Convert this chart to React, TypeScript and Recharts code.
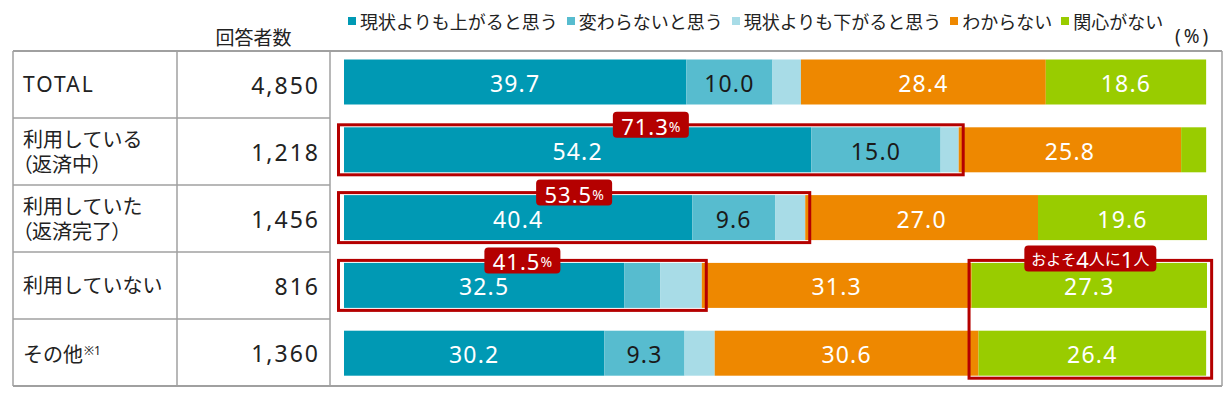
import React from 'react';
import { BarChart, Bar, XAxis, YAxis } from 'recharts';

// rows of the table / categories of the chart
const categories = ['TOTAL', '利用している（返済中）', '利用していた（返済完了）', '利用していない', 'その他'];
const rowLabels = [['TOTAL'], ['利用している', '（返済中）'], ['利用していた', '（返済完了）'], ['利用していない'], ['その他']];
const rowNotes = ['', '', '', '', '※1'];
const respondents = [4850, 1218, 1456, 816, 1360];

// shares in %
const rise = [39.7, 54.2, 40.4, 32.5, 30.2];
const same = [10.0, 15.0, 9.6, 4.2, 9.3];
const fall = [3.3, 2.1, 3.5, 4.8, 3.5];
const unknown = [28.4, 25.8, 27.0, 31.3, 30.6];
const noInterest = [18.6, 2.9, 19.6, 27.3, 26.4];

// red call-outs
const boxTotals = [null, 71.3, 53.5, 41.5, null];
const quarterSpan = [null, null, null, [72.5, 100], null];

const seriesNames = ['現状よりも上がると思う', '変わらないと思う', '現状よりも下がると思う', 'わからない', '関心がない'];
const seriesKeys = ['rise', 'same', 'fall', 'unknown', 'noInterest'];
const seriesColors = ['#0099b4', '#57bccf', '#a8dce7', '#ee8800', '#99cc00'];
const labelColors = ['#ffffff', '#1a1a1a', null, '#ffffff', '#ffffff'];

const RED = '#b40000';
const LINE = '#a0a0a0';
const TEXT = '#222222';

const data = categories.map((name, i) => ({
  name,
  rise: rise[i],
  same: same[i],
  fall: fall[i],
  unknown: unknown[i],
  noInterest: noInterest[i],
  box: boxTotals[i],
  quarter: quarterSpan[i],
}));

const TABLE_TOP = 51;
const ROW_H = 67;
const PLOT_TOP = 48.5;
const PLOT_BOTTOM = 387.5;
const BAR_PITCH = (PLOT_BOTTOM - PLOT_TOP) / categories.length;

function segmentShape(key: string, textColor: string | null) {
  // eslint-disable-next-line @typescript-eslint/no-explicit-any
  return (p: any) => {
    const { x, y, width, height, fill } = p;
    const v = p.payload[key];
    return (
      <g>
        <rect x={x} y={y} width={width} height={height} fill={fill} />
        {textColor && width > 45 && (
          <text
            x={x + width / 2}
            y={y + height / 2 + 1}
            textAnchor="middle"
            dominantBaseline="central"
            fontSize={23}
            letterSpacing={1.2}
            fill={textColor}
          >
            {v.toFixed(1)}
          </text>
        )}
      </g>
    );
  };
}

// eslint-disable-next-line @typescript-eslint/no-explicit-any
function BoxShape(p: any) {
  const v = p.payload.box;
  if (!v) return null;
  const { x, y, width, height } = p;
  const bx = x - 5.5;
  const by = y - 2.5;
  const bw = width + 10;
  const bh = height + 5;
  const cx = bx + bw / 2;
  return (
    <g>
      <rect x={bx} y={by} width={bw} height={bh} fill="none" stroke={RED} strokeWidth={3} />
      <rect x={cx - 38} y={by - 13} width={76} height={26} rx={4} fill={RED} />
      <text x={cx} y={by + 1} textAnchor="middle" dominantBaseline="central" fill="#fff">
        <tspan fontSize={22} letterSpacing={1}>{v.toFixed(1)}</tspan>
        <tspan fontSize={14}>%</tspan>
      </text>
    </g>
  );
}

// box spanning this row and the next one
// eslint-disable-next-line @typescript-eslint/no-explicit-any
function QuarterShape(p: any) {
  if (!p.payload.quarter) return null;
  const { x, y, width, height } = p;
  const bx = x;
  const by = y - 2.5;
  const bw = width + 5.5;
  const bh = height + BAR_PITCH + 5;
  const cx = bx + bw / 2;
  return (
    <g>
      <rect x={bx} y={by} width={bw} height={bh} fill="none" stroke={RED} strokeWidth={3} />
      <rect x={cx - 66} y={by - 15} width={132} height={26} rx={4} fill={RED} />
      <text x={cx} y={by - 1.5} textAnchor="middle" dominantBaseline="central" fill="#fff">
        <tspan fontSize={15}>およそ</tspan>
        <tspan fontSize={22}>4</tspan>
        <tspan fontSize={16}>人に</tspan>
        <tspan fontSize={22}>1</tspan>
        <tspan fontSize={16}>人</tspan>
      </text>
    </g>
  );
}

function TableLines() {
  const rowLines = [1, 2, 3, 4].map((i) => TABLE_TOP + i * ROW_H);
  const bottom = TABLE_TOP + 5 * ROW_H;
  return (
    <svg width={1227} height={393} style={{ position: 'absolute', left: 0, top: 0 }}>
      <line x1={13} x2={1222} y1={TABLE_TOP} y2={TABLE_TOP} stroke={LINE} strokeWidth={2} />
      <line x1={13} x2={1222} y1={bottom} y2={bottom} stroke={LINE} strokeWidth={2} />
      {rowLines.map((ly) => (
        <line key={ly} x1={13} x2={330} y1={ly} y2={ly} stroke={LINE} strokeWidth={1.5} />
      ))}
      {[13, 177, 330, 1222].map((lx) => (
        <line key={lx} x1={lx} x2={lx} y1={TABLE_TOP} y2={bottom} stroke={LINE} strokeWidth={1.5} />
      ))}
    </svg>
  );
}

export default function App() {
  return (
    <div
      style={{
        position: 'absolute',
        left: 0,
        top: 0,
        width: 1227,
        height: 393,
        background: '#fff',
        color: TEXT,
        fontFamily: "'Noto Sans', 'Noto Sans CJK JP', sans-serif",
        overflow: 'hidden',
      }}
    >
      <TableLines />

      {/* legend */}
      <div style={{ position: 'absolute', left: 348, top: 8, height: 26, display: 'flex', alignItems: 'center', whiteSpace: 'nowrap' }}>
        {seriesNames.map((n, i) => (
          <div key={n} style={{ display: 'flex', alignItems: 'center', marginRight: 9 }}>
            <span style={{ width: 8, height: 8, background: seriesColors[i], marginRight: 4, display: 'inline-block' }} />
            <span style={{ fontSize: 18, fontFamily: "'Noto Sans CJK JP', sans-serif", lineHeight: '26px' }}>{n}</span>
          </div>
        ))}
      </div>
      <div style={{ position: 'absolute', left: 1175, top: 23, fontSize: 19, lineHeight: '26px', letterSpacing: 3 }}>
        (%)
      </div>

      {/* header */}
      <div style={{ position: 'absolute', left: 177, width: 153, top: 25, textAlign: 'center', fontSize: 19, lineHeight: '24px', fontFamily: "'Noto Sans CJK JP', sans-serif" }}>
        回答者数
      </div>

      {/* row labels and respondents */}
      {categories.map((c, i) => (
        <React.Fragment key={c}>
          <div
            style={{
              position: 'absolute',
              left: 23,
              top: TABLE_TOP + i * ROW_H,
              height: ROW_H,
              display: 'flex',
              flexDirection: 'column',
              justifyContent: 'center',
              fontSize: 20,
              lineHeight: '25px',
            }}
          >
            {rowLabels[i].map((l, j) => (
              <div key={l} style={{ fontSize: i === 0 ? 21 : 20, letterSpacing: i === 0 ? 2 : 0, fontFeatureSettings: j > 0 ? '"palt"' : 'normal', marginLeft: j > 0 ? -1 : 0 }}>
                {l}
                {rowNotes[i] && j === rowLabels[i].length - 1 && (
                  <sup style={{ fontSize: 12, verticalAlign: 7, marginLeft: 1 }}>{rowNotes[i]}</sup>
                )}
              </div>
            ))}
          </div>
          <div
            style={{
              position: 'absolute',
              right: 1227 - 320,
              top: TABLE_TOP + i * ROW_H,
              height: ROW_H,
              display: 'flex',
              alignItems: 'center',
              fontSize: 23,
              letterSpacing: 2,
            }}
          >
            {respondents[i].toLocaleString('en-US')}
          </div>
        </React.Fragment>
      ))}

      <div style={{ position: 'absolute', left: 0, top: 0 }}>
        <BarChart
          width={1227}
          height={393}
          data={data}
          layout="vertical"
          margin={{ top: PLOT_TOP, right: 20, bottom: 393 - PLOT_BOTTOM, left: 344 }}
          barCategoryGap={0}
        >
          <XAxis type="number" domain={[0, 100]} hide />
          <YAxis type="category" dataKey="name" hide />
          <YAxis yAxisId="box" type="category" dataKey="name" hide />
          <YAxis yAxisId="quarter" type="category" dataKey="name" hide />
          {seriesKeys.map((k, i) => (
            <Bar
              key={k}
              dataKey={k}
              name={seriesNames[i]}
              stackId="a"
              barSize={45}
              fill={seriesColors[i]}
              shape={segmentShape(k, labelColors[i])}
              isAnimationActive={false}
            />
          ))}
          <Bar yAxisId="box" dataKey="box" barSize={45} fill="none" shape={BoxShape} isAnimationActive={false} />
          <Bar yAxisId="quarter" dataKey="quarter" barSize={45} fill="none" shape={QuarterShape} isAnimationActive={false} />
        </BarChart>
      </div>
    </div>
  );
}
